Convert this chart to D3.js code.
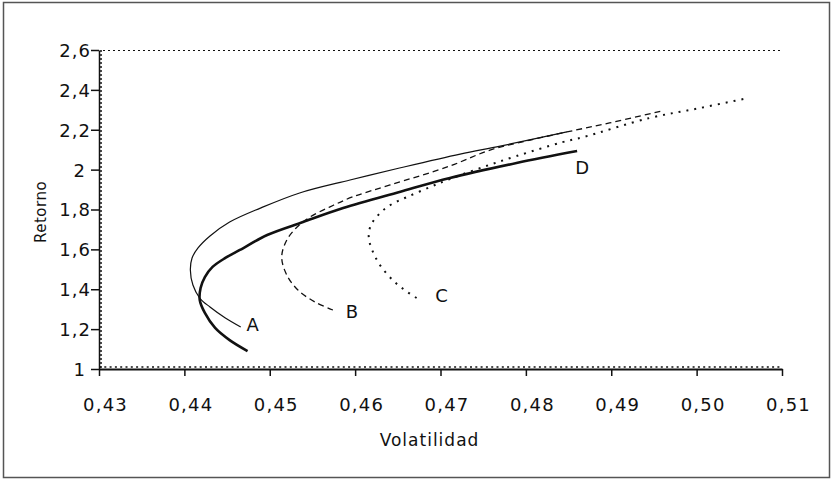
<!DOCTYPE html>
<html>
<head>
<meta charset="utf-8">
<script src="https://cdn.jsdelivr.net/npm/d3@7"></script>
<style>
	body { margin: 0; background: #fff; }
	svg text { font-family: "DejaVu Sans", sans-serif; fill: #111; }
</style>
</head>
<body>
<svg id="chart" width="834" height="481"></svg>
<script>
// Data: volatilidad / retorno for each frontier
var xTicks = [0.43, 0.44, 0.45, 0.46, 0.47, 0.48, 0.49, 0.50, 0.51];
var yTicks = [1, 1.2, 1.4, 1.6, 1.8, 2, 2.2, 2.4, 2.6];

var volA = [0.4466, 0.4448, 0.4430, 0.4418, 0.4410, 0.4407, 0.4409, 0.4416, 0.4430, 0.4453, 0.4489, 0.4535, 0.4594, 0.4652, 0.4723, 0.4770, 0.4848];
var retA = [1.211, 1.256, 1.311, 1.356, 1.421, 1.496, 1.557, 1.607, 1.667, 1.737, 1.807, 1.883, 1.948, 2.008, 2.078, 2.118, 2.189];

var volB = [0.4574, 0.4553, 0.4533, 0.4520, 0.4514, 0.4520, 0.4532, 0.4547, 0.4570, 0.4597, 0.4641, 0.4711, 0.4758, 0.4805, 0.4848, 0.4898, 0.4959];
var retB = [1.296, 1.336, 1.396, 1.471, 1.562, 1.647, 1.712, 1.762, 1.812, 1.863, 1.923, 2.018, 2.098, 2.148, 2.189, 2.234, 2.294];

var volC = [0.4672, 0.4658, 0.4644, 0.4629, 0.4620, 0.4616, 0.4618, 0.4627, 0.4641, 0.4661, 0.4688, 0.4711, 0.4750, 0.4789, 0.4843, 0.4867, 0.4945, 0.5004, 0.5060];
var retC = [1.356, 1.396, 1.446, 1.522, 1.597, 1.657, 1.717, 1.772, 1.822, 1.863, 1.913, 1.953, 2.013, 2.068, 2.138, 2.163, 2.259, 2.309, 2.359];

var volD = [0.4474, 0.4453, 0.4436, 0.4424, 0.4418, 0.4419, 0.4424, 0.4433, 0.4448, 0.4465, 0.4497, 0.4539, 0.4586, 0.4652, 0.4711, 0.4789, 0.4860];
var retD = [1.090, 1.145, 1.206, 1.281, 1.346, 1.406, 1.461, 1.512, 1.557, 1.597, 1.672, 1.737, 1.807, 1.888, 1.958, 2.033, 2.093];

var names = ["A", "B", "C", "D"];

var svg = d3.select("#chart");

// Frame
svg.append("rect")
	.attr("x", 3.5)
	.attr("y", 2.5)
	.attr("width", 826)
	.attr("height", 475)
	.attr("fill", "none")
	.attr("stroke", "#555")
	.attr("stroke-width", 1.5);

var x = d3.scaleLinear().domain([0.43, 0.51]).range([99, 782]),
	y = d3.scaleLinear().domain([1, 2.6]).range([369, 50]);

var fmt = function (d) { return String(d).replace(".", ","); };
var fmtX = function (d) { return d3.format(".2f")(d).replace(".", ","); };

// Top dotted line at 2.6
svg.append("line")
	.attr("x1", x(0.43) + 4)
	.attr("x2", x(0.51))
	.attr("y1", y(2.6) + 0.5)
	.attr("y2", y(2.6) + 0.5)
	.attr("stroke", "#111")
	.attr("stroke-width", 1)
	.attr("stroke-dasharray", "2,3");

// Minor ticks along axes
svg.append("line")
	.attr("x1", x(0.43))
	.attr("x2", x(0.51))
	.attr("y1", y(1) - 2)
	.attr("y2", y(1) - 2)
	.attr("stroke", "#111")
	.attr("stroke-width", 1.5)
	.attr("stroke-dasharray", "2,3.3");

svg.append("line")
	.attr("x1", x(0.43) + 2)
	.attr("x2", x(0.43) + 2)
	.attr("y1", y(2.6))
	.attr("y2", y(1))
	.attr("stroke", "#111")
	.attr("stroke-width", 1.5)
	.attr("stroke-dasharray", "2,2");

// X axis
var xAxisG = svg.append("g")
	.attr("transform", "translate(0," + y(1) + ")")
	.call(d3.axisBottom(x).tickValues(xTicks).tickFormat(fmtX).tickSize(7).tickSizeOuter(0));

xAxisG.select(".domain").attr("stroke", "#111").attr("stroke-width", 2);
xAxisG.selectAll(".tick line").attr("stroke", "#111").attr("stroke-width", 1.5);
xAxisG.selectAll(".tick text")
	.attr("y", 42)
	.attr("dy", 0)
	.attr("dx", 6)
	.style("font-size", "18px")
	.style("letter-spacing", "1.2px");

// Y axis
var yAxisG = svg.append("g")
	.attr("transform", "translate(" + x(0.43) + ",0)")
	.call(d3.axisLeft(y).tickValues(yTicks).tickFormat(fmt).tickSize(8).tickSizeOuter(0));

yAxisG.select(".domain").attr("stroke", "#111").attr("stroke-width", 1.5);
yAxisG.selectAll(".tick line").attr("stroke", "#111").attr("stroke-width", 1.5);
yAxisG.selectAll(".tick text")
	.attr("x", function (d) { return Number.isInteger(d) ? -13 : -8; })
	.attr("dy", "0.36em")
	.style("font-size", "18px")
	.style("letter-spacing", "1px");

svg.selectAll(".tick text").attr("fill", "#111").attr("font-family", null);

// Axis titles
svg.append("text")
	.attr("x", (x(0.43) + x(0.51)) / 2 - 11)
	.attr("y", 446)
	.attr("text-anchor", "middle")
	.style("font-size", "17px")
	.style("letter-spacing", "1px")
	.text("Volatilidad");

svg.append("text")
	.attr("transform", "translate(46,212) rotate(-90)")
	.attr("text-anchor", "middle")
	.style("font-size", "15px")
	.style("letter-spacing", "0.5px")
	.text("Retorno");

// Curves; labels sit next to the first point, except D which sits by its last
var series = [
	{ vol: volA, ret: retA, width: 1.2, dash: null, at: "first", dx: 12, dy: 4 },
	{ vol: volB, ret: retB, width: 1.3, dash: "6,4", at: "first", dx: 19, dy: 8 },
	{ vol: volC, ret: retC, width: 2, dash: "2,6", at: "first", dx: 25, dy: 4 },
	{ vol: volD, ret: retD, width: 2.6, dash: null, at: "last", dx: 5, dy: 23 }
];

var line = d3.line()
	.x(function (d) { return x(d[0]); })
	.y(function (d) { return y(d[1]); })
	.curve(d3.curveCatmullRom.alpha(0.5));

series.forEach(function (s, i) {
	var pts = d3.zip(s.vol, s.ret),
		p = s.at == "last" ? pts[pts.length - 1] : pts[0];

	svg.append("path")
		.attr("d", line(pts))
		.attr("fill", "none")
		.attr("stroke", "#111")
		.attr("stroke-width", s.width)
		.attr("stroke-dasharray", s.dash);

	svg.append("text")
		.attr("x", x(p[0]) + s.dx)
		.attr("y", y(p[1]) + s.dy)
		.attr("text-anchor", "middle")
		.style("font-size", "18px")
		.text(names[i]);
});
</script>
</body>
</html>
